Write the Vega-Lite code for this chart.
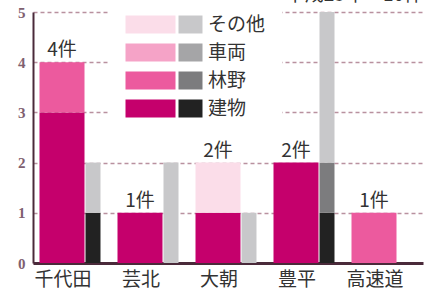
{
  "$schema": "https://vega.github.io/schema/vega-lite/v6.json",
  "width": 390,
  "height": 251,
  "autosize": {"type": "none"},
  "padding": {"left": 33, "top": 12, "right": 3, "bottom": 29},
  "background": "white",
  "title": {"text": "平成23年　10件", "anchor": "end", "frame": "group", "offset": 0, "dy": 6, "fontSize": 19, "fontWeight": "normal", "color": "#333333", "font": "Noto Sans CJK JP"},
  "config": {
    "view": {"stroke": null},
    "font": "Noto Sans CJK JP",
    "axisY": {"values": [0, 1, 2, 3, 4, 5], "grid": true, "gridDash": [4, 3], "gridColor": "#b9919f", "gridWidth": 1.5, "ticks": false, "domainColor": "#4a2a3a", "domainWidth": 2, "labelFont": "Liberation Sans Narrow", "labelFontWeight": "bold", "labelFontSize": 15, "labelColor": "#806070", "labelPadding": 8},
    "axisX": {"labelAngle": 0, "ticks": false, "domainColor": "#4a2a3a", "domainWidth": 3, "labelFontSize": 19, "labelColor": "#333333", "labelPadding": 7, "labelOffset": -9, "zindex": 1, "labelFont": "Noto Sans CJK JP"}
  },
  "data": {"values": [
    {"area": "千代田", "type": "建物", "year": "H23", "count": 3},
    {"area": "千代田", "type": "林野", "year": "H23", "count": 1},
    {"area": "芸北", "type": "建物", "year": "H23", "count": 1},
    {"area": "大朝", "type": "建物", "year": "H23", "count": 1},
    {"area": "大朝", "type": "その他", "year": "H23", "count": 1},
    {"area": "豊平", "type": "建物", "year": "H23", "count": 2},
    {"area": "高速道", "type": "林野", "year": "H23", "count": 1},
    {"area": "千代田", "type": "建物", "year": "H22", "count": 1},
    {"area": "千代田", "type": "その他", "year": "H22", "count": 1},
    {"area": "芸北", "type": "その他", "year": "H22", "count": 2},
    {"area": "大朝", "type": "その他", "year": "H22", "count": 1},
    {"area": "豊平", "type": "建物", "year": "H22", "count": 1},
    {"area": "豊平", "type": "林野", "year": "H22", "count": 1},
    {"area": "豊平", "type": "その他", "year": "H22", "count": 3}
  ]},
  "encoding": {
    "x": {"field": "area", "type": "nominal", "title": null, "sort": ["千代田", "芸北", "大朝", "豊平", "高速道"], "scale": {"paddingInner": 0, "paddingOuter": 0}}
  },
  "layer": [
    {
      "transform": [
        {"filter": "datum.year === 'H23'"},
        {"calculate": "indexof(['建物','林野','車両','その他'], datum.type)", "as": "stackOrder"}
      ],
      "mark": {"type": "bar", "width": 45, "xOffset": -10},
      "encoding": {
        "y": {"field": "count", "type": "quantitative", "stack": "zero", "title": null, "scale": {"domain": [0, 5], "nice": false}},
        "color": {"field": "type", "type": "nominal", "scale": {"domain": ["その他", "車両", "林野", "建物"], "range": ["#fbdde9", "#f5a3c7", "#ec5a9e", "#c5006c"]},
          "legend": {"title": null, "orient": "none", "legendX": 76, "legendY": -13, "symbolType": "M-2.778,-1H2.778V1H-2.778Z", "symbolSize": 324, "symbolStrokeWidth": 0, "symbolOffset": 16, "labelOffset": 48, "labelFontSize": 19, "labelFont": "Noto Sans CJK JP", "labelColor": "#333333", "rowPadding": 8, "padding": 16, "fillColor": "white", "labelLimit": 200}},
        "order": {"field": "stackOrder", "type": "quantitative"}
      }
    },
    {
      "transform": [
        {"filter": "datum.year === 'H22'"},
        {"calculate": "indexof(['建物','林野','車両','その他'], datum.type)", "as": "stackOrder"}
      ],
      "mark": {"type": "bar", "width": 15, "xOffset": 21},
      "encoding": {
        "y": {"field": "count", "type": "quantitative", "stack": "zero", "title": null},
        "fill": {"field": "type", "type": "nominal", "scale": {"domain": ["建物", "林野", "車両", "その他"], "range": ["#222222", "#7c7c7e", "#a5a5a7", "#c8c8ca"]},
          "legend": {"title": null, "orient": "none", "legendX": 145, "legendY": 3, "values": ["その他", "車両", "林野", "建物"], "symbolType": "M-1.333,-1H1.333V1H-1.333Z", "symbolSize": 324, "symbolStrokeWidth": 0, "symbolOffset": 3, "labelExpr": "''", "labelFontSize": 19, "labelFont": "Noto Sans CJK JP", "rowPadding": 8, "padding": 0}},
        "order": {"field": "stackOrder", "type": "quantitative"}
      }
    },
    {
      "transform": [
        {"filter": "datum.year === 'H23'"},
        {"aggregate": [{"op": "sum", "field": "count", "as": "total"}], "groupby": ["area"]},
        {"calculate": "datum.total + '件'", "as": "label"}
      ],
      "mark": {"type": "text", "xOffset": -10, "dy": -6, "baseline": "alphabetic", "fontSize": 19, "color": "#333333", "font": "Noto Sans CJK JP"},
      "encoding": {
        "y": {"field": "total", "type": "quantitative", "title": null},
        "text": {"field": "label"}
      }
    }
  ]
}
